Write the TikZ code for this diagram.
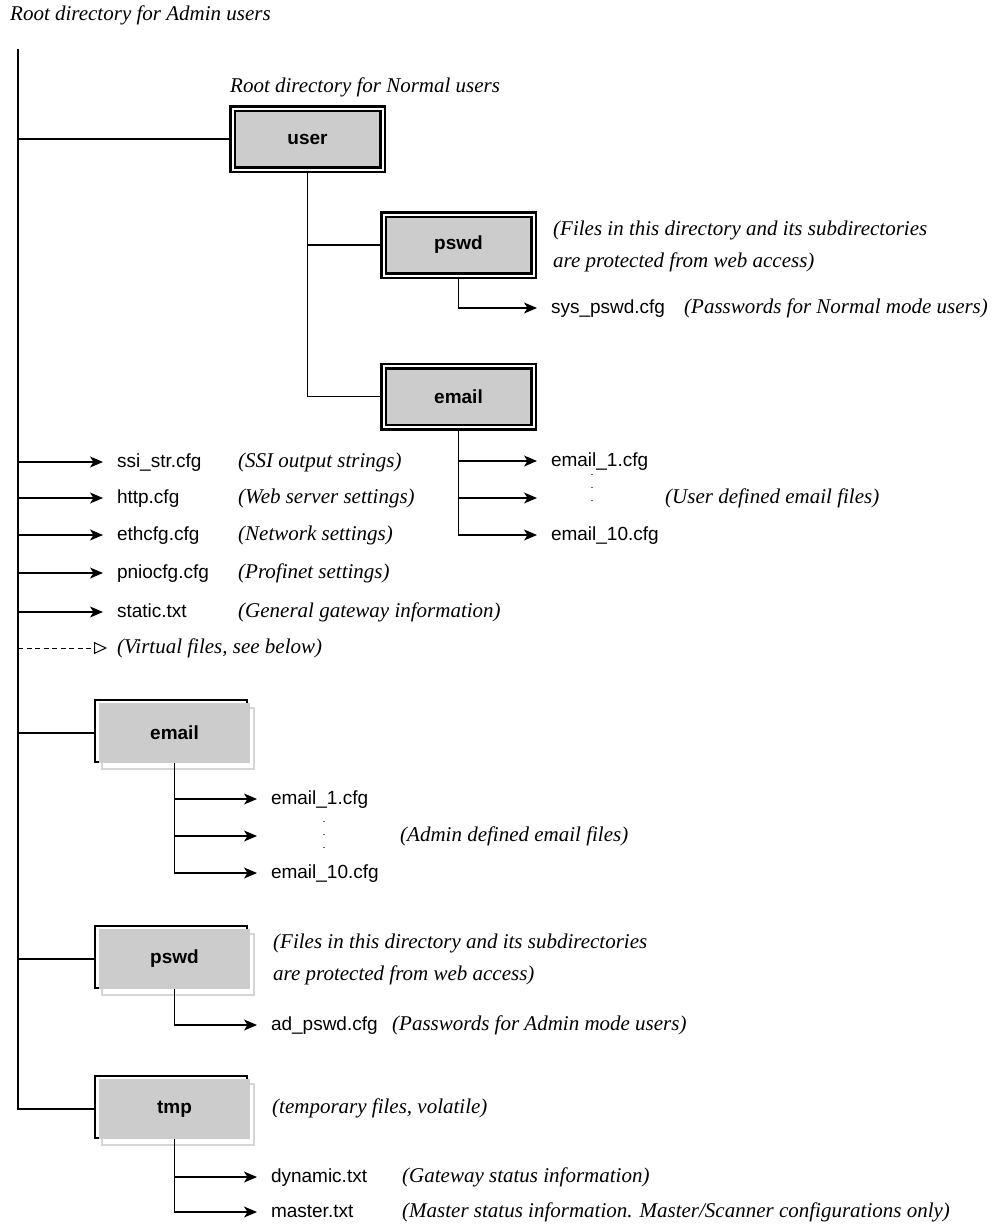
\documentclass[tikz,border=0pt]{standalone}
\usepackage{fontspec}
\setmainfont{Liberation Serif}
\setsansfont{Liberation Sans}
\usetikzlibrary{arrows.meta}
\definecolor{dirgrey}{RGB}{204,204,204}
\definecolor{shadowgrey}{RGB}{214,214,214}
\tikzset{
	tree/.style={line width=1.3pt},
	fileto/.style={tree, -{Stealth[length=13pt,width=11pt,inset=3.5pt]}},
	virtto/.style={line width=1pt, dash pattern=on 5pt off 3.5pt, -{Triangle[open,length=13pt,width=12pt]}},
	udir/.style={draw, line width=2.5pt, double=white, double distance=2pt, fill=dirgrey, minimum width=150pt, minimum height=61pt, inner sep=0pt, outer sep=3.5pt, font=\sffamily\bfseries\fontsize{19}{19}\selectfont},
	adir/.style={fill=dirgrey, minimum width=151pt, minimum height=60pt, inner sep=0pt, outer xsep=4pt, outer ysep=0pt, font=\sffamily\bfseries\fontsize{19}{19}\selectfont},
	adirback/.style={draw, line width=1.2pt},
	adirshadow/.style={draw=shadowgrey, fill=white, line width=1.2pt},
	file/.style={anchor=west, inner xsep=14pt, inner ysep=1pt, outer sep=0pt, text height=14pt, text depth=4pt, font=\sffamily\fontsize{19}{22}\selectfont},
	note/.style={anchor=west, inner sep=0pt, align=left, font=\itshape\fontsize{21}{32}\selectfont},
	fewdots/.style={line width=1.3pt, black!60, dash pattern=on 1pt off 12pt}
}
% admin directory box: name, top, label
\def\admindir#1#2#3{
	\draw[adirshadow] (102,#2+8) rectangle (254,#2+69);
	\draw[adirback] (95,#2) rectangle (247,#2+62);
	\node[adir] (#1) at (174.5,#2+33) {#3};
}
\begin{document}
\begin{tikzpicture}[x=1pt, y=-1pt]
	%%%%% START %%%%%
	\useasboundingbox (0,0) rectangle (996,1224);
	
	\node[note] (admroot) at (10,15) {Root directory for Admin users};
	\coordinate (top) at (18,49);
	\node[note] (usrroot) at (230,87) {Root directory for Normal users};
	
	% normal user tree
	\node[udir] (user) at (307.5,139) {user};
	\node[udir] (upswd) at (458.5,245) {pswd};
	\node[udir] (uemail) at (458.5,396.5) {email};
	
	\node[note] (upswdnote) at (553,246) {(Files in this directory and its subdirectories\\are protected from web access)};
	\node[file] (syspswd) at (537,308) {sys\_pswd.cfg};
	\node[note] (syspswdnote) at (684,308) {(Passwords for Normal mode users)};
	
	\node[file] (uemail1) at (537,461) {email\_1.cfg};
	\coordinate (uemaildots) at (537,498);
	\node[file] (uemail10) at (537,535) {email\_10.cfg};
	\node[note] (uemailnote) at (665,498) {(User defined email files)};
	\draw[fewdots] (592,474) -- (592,512);
	
	% files in root
	\node[file] (ssi) at (103,462) {ssi\_str.cfg};
	\node[file] (http) at (103,498) {http.cfg};
	\node[file] (eth) at (103,535) {ethcfg.cfg};
	\node[file] (pnio) at (103,573) {pniocfg.cfg};
	\node[file] (static) at (103,612) {static.txt};
	\node[note] (ssinote) at (238,462) {(SSI output strings)};
	\node[note] (httpnote) at (238,498) {(Web server settings)};
	\node[note] (ethnote) at (238,535) {(Network settings)};
	\node[note] (pnionote) at (238,573) {(Profinet settings)};
	\node[note] (staticnote) at (238,612) {(General gateway information)};
	\node[note, inner xsep=10pt] (virt) at (107,648) {(Virtual files, see below)};
	
	% admin tree
	\admindir{aemail}{700}{email}
	\admindir{apswd}{926}{pswd}
	\admindir{atmp}{1076}{tmp}
	
	\node[file] (aemail1) at (257,799) {email\_1.cfg};
	\coordinate (aemaildots) at (257,836);
	\node[file] (aemail10) at (257,873) {email\_10.cfg};
	\node[note] (aemailnote) at (400,836) {(Admin defined email files)};
	\draw[fewdots] (324,821) -- (324,852);
	
	\node[note] (apswdnote) at (273,959) {(Files in this directory and its subdirectories\\are protected from web access)};
	\node[file] (adpswd) at (257,1025) {ad\_pswd.cfg};
	\node[note] (adpswdnote) at (392,1025) {(Passwords for Admin mode users)};
	
	\node[note] (atmpnote) at (272,1108) {(temporary files, volatile)};
	\node[file] (dyn) at (257,1177) {dynamic.txt};
	\node[note] (dynnote) at (402,1177) {(Gateway status information)};
	\node[file] (master) at (257,1212) {master.txt};
	\node[note] (masternote) at (402,1212) {(Master status information. Master/Scanner configurations only)};
	
	% connectors
	\draw[tree] (top) |- (atmp.west);
	\draw[tree] (top |- user.west) -- (user.west);
	\draw[tree] (user.south) |- (upswd.west);
	\draw[tree] (user.south) |- (uemail.west);
	\draw[fileto] (upswd.south) |- (syspswd.west);
	\foreach \f in {uemail1.west,uemaildots,uemail10.west}
		\draw[fileto] (uemail.south) |- (\f);
	
	\foreach \f in {ssi,http,eth,pnio,static}
		\draw[fileto] (top |- \f.west) -- (\f.west);
	\draw[virtto] (top |- virt.west) -- (virt.west);
	
	\foreach \d in {aemail,apswd}
		\draw[tree] (top |- \d.west) -- (\d.west);
	\foreach \f in {aemail1.west,aemaildots,aemail10.west}
		\draw[fileto] (aemail.south) |- (\f);
	\draw[fileto] (apswd.south) |- (adpswd.west);
	\draw[fileto] (atmp.south) |- (dyn.west);
	\draw[fileto] (atmp.south) |- (master.west);
	
	%%%%% END %%%%%
\end{tikzpicture}
\end{document}
